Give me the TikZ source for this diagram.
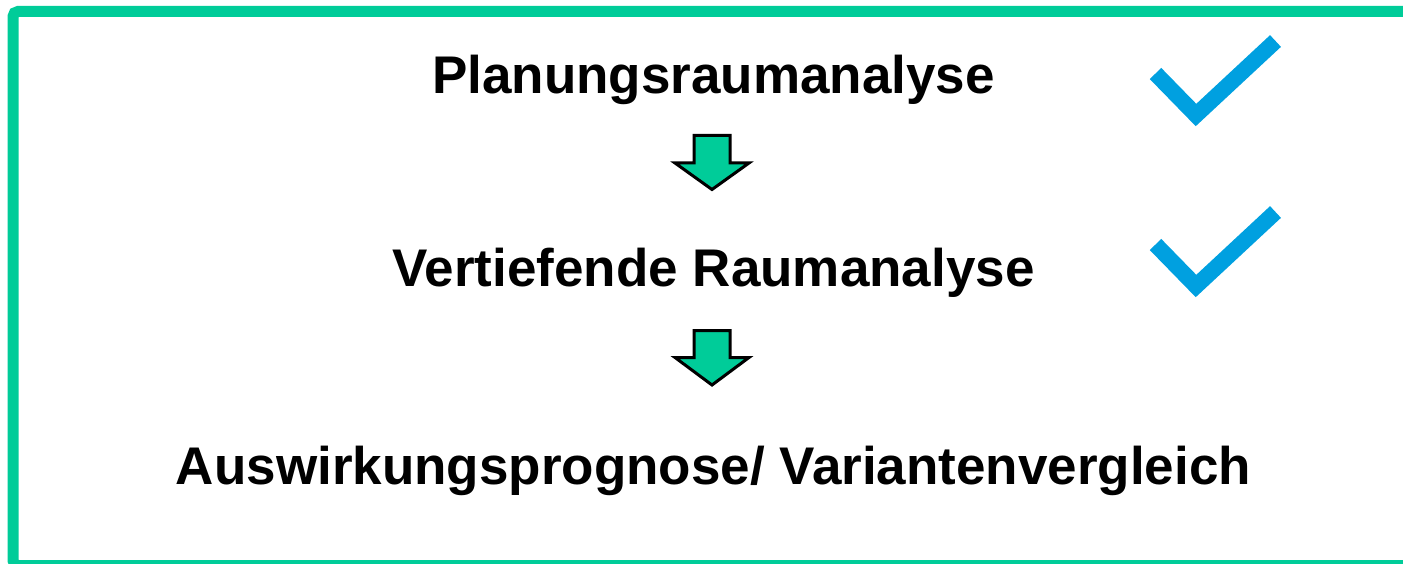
\documentclass[tikz,border=0pt]{standalone}
\usepackage{fontspec}
\setmainfont{Liberation Sans}
\definecolor{framegreen}{RGB}{0,204,153}
\definecolor{checkblue}{RGB}{0,160,224}
\begin{document}
\begin{tikzpicture}[x=1pt,y=-1pt,
  title/.style={anchor=base,inner sep=0pt,font=\fontsize{53}{60}\selectfont\bfseries},
  downarrow/.style={draw=black,line width=3pt,fill=framegreen,line join=miter},
  checkmark/.style={draw=checkblue,line width=16pt,line cap=butt,line join=miter}]
\useasboundingbox (0,0) rectangle (1403,564);
\begin{scope}
\clip (0,0) rectangle (1403,564);
\draw[framegreen,line width=11pt,rounded corners=5pt] (13,11.5) rectangle (1430,565.5);
\end{scope}
\node[title] (t1) at (713.5,94) {Planungsraumanalyse};
\node[title] (t2) at (713.5,286) {Vertiefende Raumanalyse};
\node[title] (t3) at (713.5,484) {Auswirkungsprognose/ Variantenvergleich};
% arrows
\draw[downarrow] (694,135.5) -- (730,135.5) -- (730,163) -- (749,163) -- (712,189.5) -- (675,163) -- (694,163) -- cycle;
\draw[downarrow] (694,330.5) -- (730,330.5) -- (730,357.5) -- (749,357.5) -- (712,385) -- (675,357.5) -- (694,357.5) -- cycle;
% checks
\draw[checkmark] (1155.5,73.5) -- (1196,115) -- (1275.5,41);
\draw[checkmark] (1155.5,244.5) -- (1196,286) -- (1275.5,212);
\end{tikzpicture}
\end{document}
